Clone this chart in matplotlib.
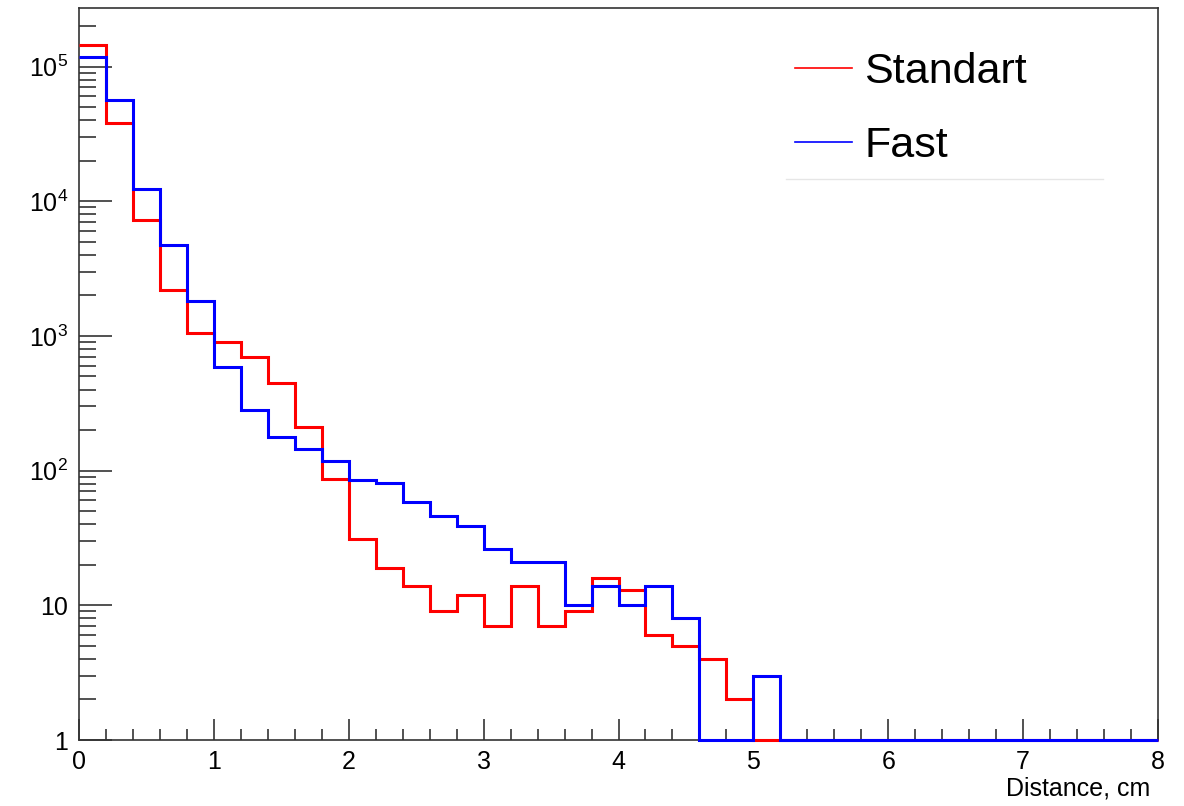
import numpy as np
import matplotlib
matplotlib.use("Agg")
import matplotlib.pyplot as plt
from matplotlib.lines import Line2D
from matplotlib.ticker import FixedLocator, FixedFormatter, MultipleLocator

plt.rcParams['font.family'] = ['Liberation Sans', 'DejaVu Sans']
plt.rcParams['mathtext.fontset'] = 'custom'
plt.rcParams['mathtext.rm'] = 'Liberation Sans'
plt.rcParams['mathtext.it'] = 'Liberation Sans:italic'

# histogram bins: 40 bins of 0.2 cm from 0 to 8
edges = np.linspace(0, 8, 41)

standart = [145000, 38000, 7200, 2200, 1050, 900, 700, 450, 210, 87,
            31, 19, 14, 9, 12, 7, 14, 7, 9, 16,
            13, 6, 5, 4, 2, 0, 0, 0, 0, 0,
            0, 0, 0, 0, 0, 0, 0, 0, 0, 0]
fast = [117000, 56000, 12300, 4700, 1820, 590, 282, 177, 145, 117,
        85, 81, 58, 46, 39, 26, 21, 21, 10, 14,
        10, 14, 8, 0, 0, 3, 0, 0, 0, 0,
        0, 0, 0, 0, 0, 0, 0, 0, 0, 0]

ytick_vals = [1, 10, 100, 1000, 10000, 100000]
ytick_labels = ['1', '10', r'$\mathdefault{10^{2}}$', r'$\mathdefault{10^{3}}$',
                r'$\mathdefault{10^{4}}$', r'$\mathdefault{10^{5}}$']

fig = plt.figure(figsize=(11.84, 8.06), dpi=100)
ax = fig.add_axes([79/1184, 1 - 740/806, (1158 - 79)/1184, (740 - 8)/806])

# empty bins sit on the bottom of the log axis like in ROOT
ax.stairs(np.clip(standart, 1, None), edges, baseline=None, color='#ff0000',
          lw=2.2, zorder=3, clip_on=False)
ax.stairs(np.clip(fast, 1, None), edges, baseline=None, color='#0000ff',
          lw=2.2, zorder=3, clip_on=False)

ax.set_yscale('log')
ax.set_xlim(0, 8)
ax.set_ylim(1, 2.72e5)

ax.xaxis.set_major_locator(MultipleLocator(1))
ax.xaxis.set_minor_locator(MultipleLocator(0.2))
ax.yaxis.set_major_locator(FixedLocator(ytick_vals))
ax.yaxis.set_major_formatter(FixedFormatter(ytick_labels))
minors = [m * 10**d for d in range(0, 6) for m in range(2, 10)]
ax.yaxis.set_minor_locator(FixedLocator(minors))
ax.yaxis.set_minor_formatter(FixedFormatter([''] * len(minors)))

ax.tick_params(axis='x', which='major', direction='in', length=15, width=1.2,
               labelsize=18, pad=7, color='#333333')
ax.tick_params(axis='x', which='minor', direction='in', length=8, width=1.2, color='#333333')
ax.tick_params(axis='y', which='major', direction='in', length=24, width=1.2,
               labelsize=18, pad=8, color='#333333')
ax.tick_params(axis='y', which='minor', direction='in', length=12, width=1.2, color='#333333')
for s in ax.spines.values():
    s.set_linewidth(1.2)
    s.set_color('#333333')

ax.set_xlabel('Distance, cm', fontsize=18, loc='right')
ax.xaxis.set_label_coords((1150 - 79) / 1079, -0.05)

handles = [Line2D([], [], color='#ff0000', lw=1.2),
           Line2D([], [], color='#0000ff', lw=1.2)]
ax.legend(handles, ['Standart', 'Fast'], loc='upper left',
          bbox_to_anchor=(795/1184, 1 - 52/806), bbox_transform=fig.transFigure,
          frameon=False, fontsize=31, handlelength=1.33, handletextpad=0.28,
          labelspacing=0.79, borderpad=0, borderaxespad=0)
fig.add_artist(Line2D([786/1184, 1103/1184], [1 - 179/806, 1 - 179/806],
                      transform=fig.transFigure, color='#e6e6e6', lw=1))

fig.savefig('out.png', dpi=100)
